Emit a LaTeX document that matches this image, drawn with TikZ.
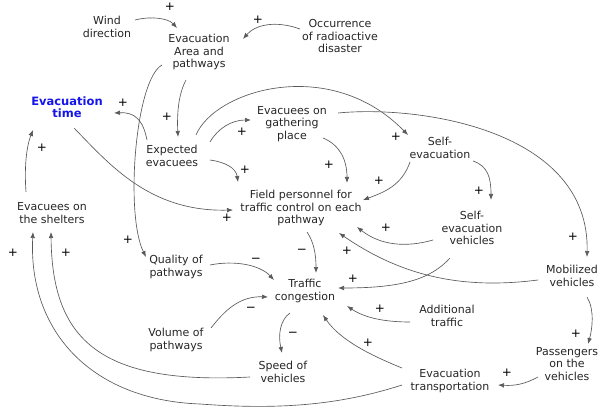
\documentclass[tikz,border=0pt]{standalone}
\usepackage{fontspec}
\setmainfont{DejaVu Sans}
\usetikzlibrary{arrows.meta}
\begin{document}
\begin{tikzpicture}[x=1pt,y=-1pt,
  lbl/.style={align=center,text=black!85,inner sep=0pt,font={\fontsize{11}{12.5}\selectfont}},
  hl/.style={lbl,text={rgb,255:red,20;green,20;blue,235},font={\bfseries\fontsize{11.5}{12.5}\selectfont}},
  sgn/.style={inner sep=0pt,text=black,font={\fontsize{12}{12}\selectfont}},
  lnk/.style={draw=black!65,line width=0.65pt,-{Latex[length=6pt,width=4.6pt]}}]
\fill[white] (0,0) rectangle (600,409);
\useasboundingbox (0,0) rectangle (600,409);
% nodes
\node[lbl] (wind) at (107,27) {Wind\\direction};
\node[lbl] (area) at (199,52) {Evacuation\\Area and\\pathways};
\node[lbl] (occ) at (340,36) {Occurrence\\of radioactive\\disaster};
\node[hl] (time) at (67,107) {Evacuation\\time};
\node[lbl] (exp) at (172,156) {Expected\\evacuees};
\node[lbl] (gath) at (292,124) {Evacuees on\\gathering\\place};
\node[lbl] (self) at (440,148) {Self-\\evacuation};
\node[lbl] (field) at (301,208) {Field personnel for\\traffic control on each\\pathway};
\node[lbl] (sev) at (472,228) {Self-\\evacuation\\vehicles};
\node[lbl] (shel) at (52,213) {Evacuees on\\the shelters};
\node[lbl] (qual) at (176,267) {Quality of\\pathways};
\node[lbl] (traf) at (305,291) {Traffic\\congestion};
\node[lbl] (mob) at (572,276) {Mobilized\\vehicles};
\node[lbl] (add) at (447,316) {Additional\\traffic};
\node[lbl] (vol) at (176,340) {Volume of\\pathways};
\node[lbl] (speed) at (283,372) {Speed of\\vehicles};
\node[lbl] (trans) at (450,381) {Evacuation\\transportation};
\node[lbl] (pass) at (567,364) {Passengers\\on the\\vehicles};
% connectors
\draw[lnk] ([shift={(28,-7)}]wind.center) .. controls (150,16) and (168,18) .. ([shift={(-22,-24)}]area.center);
\draw[lnk] ([shift={(-40,-7)}]occ.center) .. controls (275,20) and (255,25) .. ([shift={(44,-13)}]area.center);
\draw[lnk] ([shift={(-13,28)}]area.center) .. controls (178,95) and (177,115) .. ([shift={(6,-19)}]exp.center);
\draw[lnk] ([shift={(-37,13)}]area.center) .. controls (135,80) and (125,215) .. ([shift={(-30,-10)}]qual.center);
\draw[lnk] ([shift={(-25,-16)}]exp.center) .. controls (143,120) and (135,112) .. ([shift={(47,6)}]time.center);
\draw[lnk] ([shift={(7,21)}]time.center) .. controls (110,165) and (150,212) .. ([shift={(-68,2)}]field.center);
\draw[lnk] ([shift={(38,-14)}]exp.center) .. controls (218,128) and (232,120) .. ([shift={(-41,-4)}]gath.center);
\draw[lnk] ([shift={(38,4)}]exp.center) .. controls (225,162) and (236,168) .. ([shift={(-63,-26)}]field.center);
\draw[lnk] ([shift={(24,-21)}]exp.center) .. controls (215,90) and (330,55) .. ([shift={(-32,-13)}]self.center);
\draw[lnk] ([shift={(31,14)}]gath.center) .. controls (340,145) and (347,160) .. ([shift={(46,-25)}]field.center);
\draw[lnk] ([shift={(46,-11)}]gath.center) .. controls (420,105) and (590,130) .. ([shift={(15,-19)}]mob.center);
\draw[lnk] ([shift={(-30,14)}]self.center) .. controls (402,185) and (385,192) .. ([shift={(62,-8)}]field.center);
\draw[lnk] ([shift={(33,13)}]self.center) .. controls (488,166) and (491,178) .. ([shift={(19,-28)}]sev.center);
\draw[lnk] ([shift={(-39,12)}]sev.center) .. controls (405,248) and (380,245) .. ([shift={(56,19)}]field.center);
\draw[lnk] ([shift={(-22,30)}]sev.center) .. controls (430,280) and (400,288) .. ([shift={(33,-3)}]traf.center);
\draw[lnk] ([shift={(-34,4)}]mob.center) .. controls (460,290) and (400,275) .. ([shift={(38,25)}]field.center);
\draw[lnk] ([shift={(6,24)}]field.center) .. controls (314,242) and (316,255) .. ([shift={(11,-18)}]traf.center);
\draw[lnk] ([shift={(34,-2)}]qual.center) .. controls (235,260) and (260,265) .. ([shift={(-31,-11)}]traf.center);
\draw[lnk] ([shift={(35,-12)}]vol.center) .. controls (225,310) and (240,296) .. ([shift={(-37,6)}]traf.center);
\draw[lnk] ([shift={(-37,6)}]add.center) .. controls (385,322) and (365,318) .. ([shift={(42,15)}]traf.center);
\draw[lnk] ([shift={(-48,-13)}]trans.center) .. controls (370,355) and (340,340) .. ([shift={(18,24)}]traf.center);
\draw[lnk] ([shift={(-15,22)}]traf.center) .. controls (280,320) and (278,335) .. ([shift={(-1,-19)}]speed.center);
\draw[lnk] ([shift={(15,21)}]mob.center) .. controls (595,310) and (592,330) .. ([shift={(21,-20)}]pass.center);
\draw[lnk] ([shift={(-29,13)}]pass.center) .. controls (525,384) and (515,386) .. ([shift={(48,4)}]trans.center);
\draw[lnk] ([shift={(-33,5)}]speed.center) .. controls (100,385) and (52,340) .. ([shift={(-1,19)}]shel.center);
\draw[lnk] ([shift={(-48,4)}]trans.center) .. controls (340,405) and (280,410) .. (200,404) .. controls (90,400) and (28,330) .. ([shift={(-19,19)}]shel.center);
\draw[lnk] ([shift={(-26,-21)}]shel.center) .. controls (24,165) and (27,145) .. ([shift={(-34,23)}]time.center);
% polarity signs
\node[sgn] (s1) at (170,7) {+};
\node[sgn] (s2) at (258,20) {+};
\node[sgn] (s3) at (167,117) {+};
\node[sgn] (s4) at (128,240) {+};
\node[sgn] (s5) at (123,103) {+};
\node[sgn] (s6) at (227,218) {+};
\node[sgn] (s7) at (242,132) {+};
\node[sgn] (s8) at (245,170) {+};
\node[sgn] (s9) at (396,137) {+};
\node[sgn] (s10) at (329,165) {+};
\node[sgn] (s11) at (573,237) {+};
\node[sgn] (s12) at (379,181) {+};
\node[sgn] (s13) at (479,191) {+};
\node[sgn] (s14) at (386,228) {+};
\node[sgn] (s15) at (353,279) {+};
\node[sgn] (s16) at (347,251) {+};
\node[sgn] (s17) at (302,251) {−};
\node[sgn] (s18) at (256,260) {−};
\node[sgn] (s19) at (251,309) {−};
\node[sgn] (s20) at (380,309) {+};
\node[sgn] (s21) at (368,343) {+};
\node[sgn] (s22) at (293,334) {−};
\node[sgn] (s23) at (576,334) {+};
\node[sgn] (s24) at (507,373) {+};
\node[sgn] (s25) at (66,253) {+};
\node[sgn] (s26) at (13,253) {+};
\node[sgn] (s27) at (42,148) {+};
\end{tikzpicture}
\end{document}
